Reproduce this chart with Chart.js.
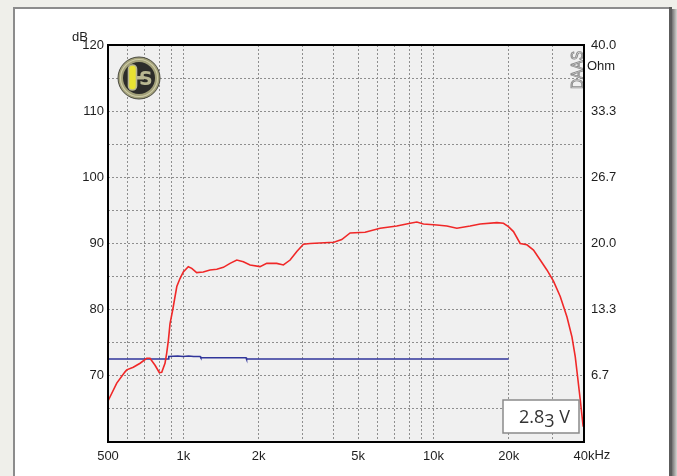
<!DOCTYPE html>
<html><head><meta charset="utf-8">
<script src="https://cdn.jsdelivr.net/npm/chart.js@4"></script>
<style>html,body{margin:0;padding:0;background:#efefea;overflow:hidden}#c{display:block}</style>
</head><body>
<canvas id="c" width="677" height="476"></canvas>
<script>
// ---- data ----
const splFreq = [500,542,585,594,631,672,714,736,771,802,820,845,858,872,885,907,942,970,1000,1047,1081,1131,1202,1279,1361,1446,1538,1636,1738,1849,2027,2156,2364,2513,2673,2843,3022,3214,4000,4300,4645,5331,6124,7140,8072,8584,9122,10318,11315,12408,14023,15381,17939,19055,19955,20900,22230,23650,25130,26730,28430,30200,32140,34200,35800,36900,37700,38650,39700];
const splDb = [66.2,68.9,70.6,70.9,71.3,71.9,72.65,72.65,71.6,70.5,70.55,71.9,73.4,75.4,77.9,79.95,83.5,84.7,85.7,86.5,86.25,85.6,85.7,86.0,86.1,86.4,87.0,87.5,87.25,86.75,86.5,87.0,87.0,86.75,87.5,88.8,89.9,90.0,90.2,90.6,91.6,91.7,92.3,92.65,93.05,93.25,92.95,92.8,92.65,92.3,92.65,92.95,93.15,93.05,92.55,91.8,90.0,89.8,89.0,87.5,86.0,84.3,82.0,78.9,75.9,72.9,69.9,66.35,62.3];
const impFreq = [500,869,875,950,1000,1050,1100,1167,1175,1782,1790,20000];
const impOhm = [8.36,8.36,8.62,8.66,8.62,8.66,8.62,8.62,8.49,8.49,8.36,8.36];
const xGridValues = [500,600,700,800,900,1000,2000,3000,4000,5000,6000,7000,8000,9000,10000,20000,30000,40000];
const xTickValues = [500,1000,2000,5000,10000,20000,40000];
const xTickLabels = ['500','1k','2k','5k','10k','20k','40k'];
const dbTickValues = [70,80,90,100,110,120];
const ohmTickValues = [0,6.667,13.333,20,26.667,33.333,40];
const ohmTickLabels = ['','6.7','13.3','20.0','26.7','33.3','40.0'];
const voltageLabel = ['2.8','3',' V'];

const FONT = {family:'"Liberation Sans", Arial, sans-serif', size:13};
const TXT = '#1e1e1e';
const GRID = '#8e8e8e';

const deco = {
  id:'deco',
  beforeDraw(chart){
    const c = chart.ctx, a = chart.chartArea;
    c.save();
    c.fillStyle = '#efefea'; c.fillRect(0,0,677,476);
    c.fillStyle = '#ffffff'; c.fillRect(13,7,657,470);
    c.fillStyle = '#8c8c8c'; c.fillRect(13,7,657,2); c.fillRect(13,7,2,470);
    c.fillStyle = '#5c5c5c'; c.fillRect(669,7,3,470);
    const g = c.createLinearGradient(672,0,677,0);
    g.addColorStop(0,'#707070'); g.addColorStop(1,'#d6d6d2');
    c.fillStyle = g; c.fillRect(672,9,5,468);
    c.fillStyle = '#f0f0f0'; c.fillRect(a.left,a.top,a.right-a.left,a.bottom-a.top);
    c.restore();
  },
  beforeDatasetsDraw(chart){
    const c = chart.ctx;
    c.save();
    // logo
    const cx = 139, cy = 78;
    c.beginPath(); c.arc(cx,cy,21,0,Math.PI*2); c.fillStyle='#a3a17a'; c.fill();
    c.lineWidth=1; c.strokeStyle='#4a4a40'; c.stroke();
    c.beginPath(); c.arc(cx,cy,18.5,0,Math.PI*2); c.strokeStyle='#cfcda8'; c.lineWidth=1.2; c.stroke();
    c.beginPath(); c.arc(cx,cy,16,0,Math.PI*2); c.fillStyle='#2c2c2a'; c.fill();
    // H right stem / crossbar
    c.fillStyle='#b9b792';
    c.fillRect(134,76,10,3.5);
    // yellow pill
    c.beginPath();
    if (c.roundRect) c.roundRect(128.5,65,8,25,4); else c.rect(128.5,65,8,25);
    c.fillStyle='#e8e232'; c.fill(); c.strokeStyle='#b9b792'; c.lineWidth=1.6; c.stroke();
    c.font='bold 19px "DejaVu Sans", sans-serif'; c.fillStyle='#b9b792';
    c.textAlign='left'; c.textBaseline='middle';
    c.fillText('S',139,80);
    // DAAS vertical
    c.translate(583,89); c.rotate(-Math.PI/2);
    c.scale(0.82,1);
    c.font='17px "Liberation Sans", Arial, sans-serif';
    c.textAlign='left'; c.textBaseline='alphabetic';
    c.strokeStyle='#8a8a8a'; c.lineWidth=1; c.strokeText('DAAS',0,0);
    c.restore();
  },
  afterDraw(chart){
    const c = chart.ctx, a = chart.chartArea;
    c.save();
    c.strokeStyle='#000'; c.lineWidth=2;
    c.strokeRect(a.left,a.top,a.right-a.left,a.bottom-a.top);
    c.font = FONT.size+'px '+FONT.family; c.fillStyle=TXT;
    c.textBaseline='middle';
    c.textAlign='right'; c.fillText('dB',88,37);
    c.textAlign='left'; c.fillText('Ohm',587,66);
    const xs = chart.scales.x;
    const xl = xs.getPixelForValue(40000) + c.measureText('40k').width/2;
    c.textBaseline='top';
    const lbl = xs._labelItems ? xs._labelItems[xs._labelItems.length-1] : null;
    c.fillText('Hz', xl, 449);
    // voltage box
    c.fillStyle='#fff'; c.fillRect(503,400,76,33);
    c.strokeStyle='#8a8a8a'; c.lineWidth=1.5; c.strokeRect(503,400,76,33);
    c.fillStyle='#333'; c.font='18px "Open Sans", sans-serif';
    c.textAlign='left'; c.textBaseline='alphabetic';
    let x = 519;
    c.fillText(voltageLabel[0],x,423); x += c.measureText(voltageLabel[0]).width;
    c.fillText(voltageLabel[1],x,427); x += c.measureText(voltageLabel[1]).width;
    c.fillText(voltageLabel[2],x,423);
    c.restore();
  }
};

new Chart(document.getElementById('c'), {
  type:'line',
  data:{datasets:[
    {label:'SPL', data: splFreq.map((f,i)=>({x:f,y:splDb[i]})), yAxisID:'y',
     borderColor:'#f02828', borderWidth:1.6, pointRadius:0, tension:0, fill:false},
    {label:'Impedance', data: impFreq.map((f,i)=>({x:f,y:impOhm[i]})), yAxisID:'y2',
     borderColor:'#30359a', borderWidth:1.6, pointRadius:0, tension:0, fill:false}
  ]},
  options:{
    responsive:false, animation:false, devicePixelRatio:1,
    layout:{padding:{top:45,left:0,right:0,bottom:0}},
    plugins:{legend:{display:false}, tooltip:{enabled:false}},
    scales:{
      x:{type:'logarithmic', min:500, max:40000,
        afterBuildTicks(s){ s.ticks = xGridValues.map(v=>({value:v})); },
        afterFit(s){ s.height = 34; },
        ticks:{autoSkip:false, maxRotation:0, minRotation:0, padding:7, color:TXT, font:FONT,
          callback(v){ const i = xTickValues.indexOf(v); return i>=0 ? xTickLabels[i] : ''; }},
        grid:{color:GRID, lineWidth:1, drawTicks:false},
        border:{display:false, dash:[2,2]}
      },
      y:{type:'linear', position:'left', min:60, max:120,
        afterFit(s){ s.width = 108; },
        ticks:{stepSize:5, padding:4, color:TXT, font:FONT,
          callback(v){ return dbTickValues.includes(v) ? String(v) : ''; }},
        grid:{color:GRID, lineWidth:1, drawTicks:false},
        border:{display:false, dash:[2,2]}
      },
      y2:{type:'linear', position:'right', min:0, max:40,
        afterBuildTicks(s){ s.ticks = ohmTickValues.map(v=>({value:v})); },
        afterFit(s){ s.width = 93; },
        ticks:{padding:7, color:TXT, font:FONT,
          callback(v,i){ return ohmTickLabels[i]; }},
        grid:{display:false, drawTicks:false},
        border:{display:false}
      }
    }
  },
  plugins:[deco]
});
</script>
</body></html>
